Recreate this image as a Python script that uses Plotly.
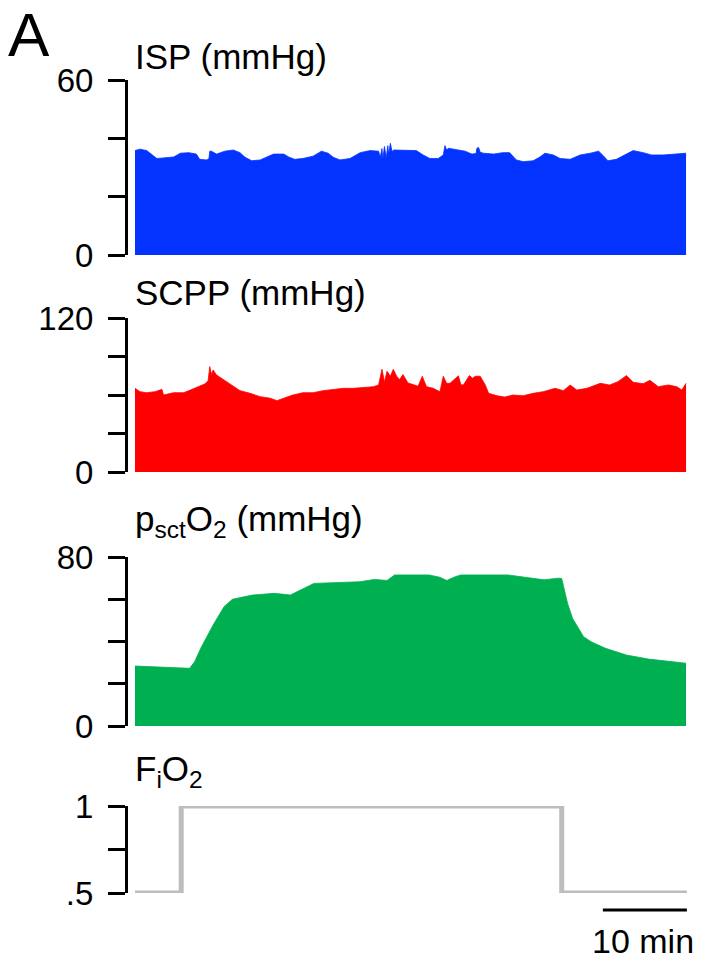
import plotly.graph_objects as go

# ---- recorded traces (time in min, value in panel units) ----
isp_t = [0, 0.6, 1.4, 2.0, 2.6, 3.4, 4.6, 5.4, 6.4, 7.3, 7.7, 8.5, 8.8, 8.9, 9.1, 9.7, 10.7, 11.7,
         12.5, 13.1, 13.9, 14.9, 15.7, 16.5, 17.7, 18.3, 19.0, 20.0, 21.2, 22.2, 23.0, 23.6, 24.4,
         25.6, 26.8, 28.0, 29.0, 29.2, 29.4, 29.5, 29.7, 29.9, 30.1, 30.2, 30.4, 30.6, 30.8, 31.2,
         32.3, 33.5, 34.3, 35.1, 36.1, 36.7, 36.9, 37.1, 37.3, 38.3, 39.3, 40.1, 40.6, 40.7, 40.9,
         41.1, 41.5, 42.7, 43.8, 44.6, 45.4, 46.2, 47.4, 48.2, 48.8, 49.8, 50.6, 51.8, 53.0, 54.2,
         55.2, 55.8, 56.3, 57.3, 58.5, 59.3, 60.5, 61.5, 62.9, 64.5, 65.6]
isp_v = [35.8, 36.3, 35.8, 34.3, 33.1, 33.3, 33.6, 34.9, 35.1, 34.6, 32.8, 32.6, 33.0, 35.6, 35.6,
         34.6, 35.6, 36.0, 35.1, 33.5, 32.3, 32.6, 33.6, 34.6, 34.6, 33.6, 32.8, 33.1, 33.9, 35.6,
         34.9, 33.5, 32.6, 33.1, 35.1, 35.8, 35.6, 33.5, 36.5, 33.0, 37.2, 33.3, 37.5, 34.5, 38.3,
         35.5, 36.0, 36.0, 35.8, 35.8, 34.3, 33.1, 33.1, 34.3, 37.5, 36.0, 36.6, 36.0, 35.6, 34.6,
         34.8, 36.6, 36.9, 35.2, 34.9, 34.6, 35.1, 35.1, 32.6, 32.0, 32.3, 33.6, 34.9, 34.3, 33.1,
         32.8, 34.3, 34.9, 35.6, 33.9, 32.3, 32.8, 34.6, 35.8, 35.1, 34.3, 34.3, 34.6, 34.9]

scpp_t = [0, 0.6, 1.4, 2.4, 3.2, 3.4, 4.6, 5.8, 6.6, 7.5, 8.3, 8.7, 8.9, 9.1, 9.3, 9.7, 10.3, 10.9,
          11.7, 12.5, 13.7, 14.9, 16.1, 16.9, 17.7, 18.8, 20.0, 21.2, 22.4, 23.6, 24.8, 26.0, 27.2,
          28.4, 29.0, 29.4, 29.7, 30.0, 30.4, 30.75, 31.15, 31.5, 31.9, 32.5, 33.1, 33.7, 34.2,
          34.7, 35.5, 36.3, 36.7, 37.1, 37.5, 38.5, 38.8, 39.1, 39.8, 40.2, 40.5, 41.1, 41.7, 42.1,
          43.1, 44.0, 45.0, 46.2, 47.4, 48.6, 50.0, 51.0, 51.8, 52.6, 53.8, 55.4, 56.5, 57.5, 58.5,
          59.3, 60.5, 61.3, 62.3, 63.5, 64.5, 65.1, 65.6]
scpp_v = [65.2, 62.6, 61.8, 62.6, 64.4, 60.0, 61.8, 61.8, 63.9, 66.5, 68.6, 70.9, 82.1, 76.0, 79.5,
          75.6, 73.0, 70.4, 66.5, 63.4, 61.3, 58.7, 57.5, 55.6, 57.5, 60.0, 61.8, 61.8, 63.4, 64.4,
          65.2, 65.2, 66.0, 66.5, 67.8, 80.0, 70.0, 78.5, 74.6, 80.0, 74.6, 72.0, 75.9, 69.4, 68.1,
          66.8, 74.6, 66.5, 65.2, 62.6, 74.6, 69.1, 69.1, 75.0, 68.0, 67.8, 75.1, 73.0, 74.6, 74.6,
          67.8, 61.3, 59.4, 58.4, 60.0, 59.4, 61.3, 62.6, 65.2, 63.4, 67.8, 63.9, 65.2, 69.1, 67.8,
          70.4, 75.1, 69.9, 68.8, 71.4, 66.5, 67.8, 66.5, 63.9, 69.1]

po2_t = [0, 2.0, 4.6, 6.5, 7.1, 7.8, 9.3, 10.6, 11.6, 14.0, 16.6, 17.6, 18.5, 21.3, 23.4, 25.1,
         26.8, 28.5, 30.0, 30.9, 35.0, 36.3, 37.1, 38.2, 38.8, 44.4, 46.5, 48.7, 50.4, 50.8, 51.5,
         52.1, 53.4, 54.3, 56.0, 58.5, 61.1, 63.7, 65.6]
po2_v = [28.4, 28.1, 27.6, 27.3, 30.4, 36.6, 47.8, 56.5, 60.0, 62.0, 62.8, 62.3, 62.0, 67.5, 67.8,
         67.8, 68.3, 69.4, 68.9, 71.5, 71.5, 70.4, 68.9, 70.8, 71.5, 71.5, 70.4, 69.2, 70.0, 69.8,
         58.0, 50.9, 42.3, 39.9, 36.8, 33.6, 31.7, 30.5, 29.7]

fio2_t = [0, 5.5, 50.8, 65.7]
fio2_v = [0.5, 1.0, 0.5, 0.5]

# axis ticks and labels per panel
isp_ticks, isp_labels = [0, 20, 40, 60], ["0", "", "", "60"]
scpp_ticks, scpp_labels = [0, 30, 60, 90, 120], ["0", "", "", "", "120"]
po2_ticks, po2_labels = [0, 20, 40, 60, 80], ["0", "", "", "", "80"]
fio2_ticks, fio2_labels = [0.5, 0.75, 1.0], [".5", "", "1"]

titles = ["ISP (mmHg)", "SCPP (mmHg)", "p<sub>sct</sub>O<sub>2</sub> (mmHg)", "F<sub>i</sub>O<sub>2</sub>"]
scale_bar_min = 10
t_end = 65.7

# ---- page geometry ----
W, H = 702, 959
FONT = "Liberation Sans, Arial, Helvetica, sans-serif"
PX_PER_MIN = 8.4
AXIS_X, DATA_X0, PLOT_X1 = 128, 135, 687
panel_px = [(80, 255), (318, 472), (557, 726), (806, 893)]  # (top, bottom) in px
title_y_px = [56, 293, 521, 771]


def fy(px):
    return 1 - px / H


x_lo = -(DATA_X0 - AXIS_X) / PX_PER_MIN
x_hi = x_lo + (PLOT_X1 - AXIS_X) / PX_PER_MIN

fig = go.Figure()

series = [
    (isp_t, isp_v, "#0433FF"),
    (scpp_t, scpp_v, "#FF0000"),
    (po2_t, po2_v, "#00B050"),
]
for i, (t, v, c) in enumerate(series, start=1):
    fig.add_trace(go.Scatter(
        x=t, y=v, mode="lines", fill="tozeroy", fillcolor=c,
        line=dict(color=c, width=0.8), xaxis=f"x{i}", yaxis=f"y{i}",
        hoverinfo="skip", showlegend=False))

fig.add_trace(go.Scatter(
    x=fio2_t, y=fio2_v, mode="lines", line=dict(color="#BDBDBD", width=5, shape="hv"),
    xaxis="x4", yaxis="y4", cliponaxis=False, hoverinfo="skip", showlegend=False))

ranges = [(0, 60), (0, 120), (0, 80), (0.5, 1.0)]
ticks = [(isp_ticks, isp_labels), (scpp_ticks, scpp_labels),
         (po2_ticks, po2_labels), (fio2_ticks, fio2_labels)]

layout = dict(
    width=W, height=H, margin=dict(l=0, r=0, t=0, b=0, pad=0, autoexpand=False),
    paper_bgcolor="white", plot_bgcolor="white",
    font=dict(family=FONT, color="black"),
    showlegend=False,
)
for i in range(1, 5):
    top, bot = panel_px[i - 1]
    sfx = "" if i == 1 else str(i)
    layout[f"xaxis{sfx}"] = dict(
        domain=[AXIS_X / W, PLOT_X1 / W], range=[x_lo, x_hi], visible=False,
        anchor=f"y{i}", fixedrange=True, automargin=False)
    tv, tt = ticks[i - 1]
    layout[f"yaxis{sfx}"] = dict(
        domain=[fy(bot), fy(top)], range=list(ranges[i - 1]), anchor=f"x{i}",
        showline=True, linecolor="black", linewidth=3,
        ticks="outside", ticklen=17, tickwidth=3, tickcolor="black",
        tickvals=tv, ticktext=tt, tickfont=dict(size=33, family=FONT),
        ticklabelstandoff=8, showgrid=False, zeroline=False, fixedrange=True,
        automargin=False)

fig.update_layout(**layout)

# panel titles
for i, txt in enumerate(titles):
    fig.add_annotation(
        text=txt, xref="paper", yref="paper", x=(DATA_X0 - 2) / W, y=fy(title_y_px[i]),
        xanchor="left", yanchor="middle", showarrow=False,
        font=dict(size=35, family=FONT, color="black"))

# panel letter
fig.add_annotation(
    text="A", xref="paper", yref="paper", x=6 / W, y=fy(35), xanchor="left",
    yanchor="middle", showarrow=False, font=dict(size=62, family=FONT, color="black"))

# time scale bar
fig.add_shape(type="line", xref="x4", yref="paper",
              x0=t_end - scale_bar_min, x1=t_end, y0=fy(910), y1=fy(910),
              line=dict(color="black", width=3))
fig.add_annotation(
    text=f"{scale_bar_min} min", xref="x4", yref="paper",
    x=t_end - scale_bar_min / 2 - 0.2, y=fy(941), xanchor="center", yanchor="middle",
    showarrow=False, borderpad=0, font=dict(size=34, family=FONT, color="black"))

fig.write_html("out.html")
